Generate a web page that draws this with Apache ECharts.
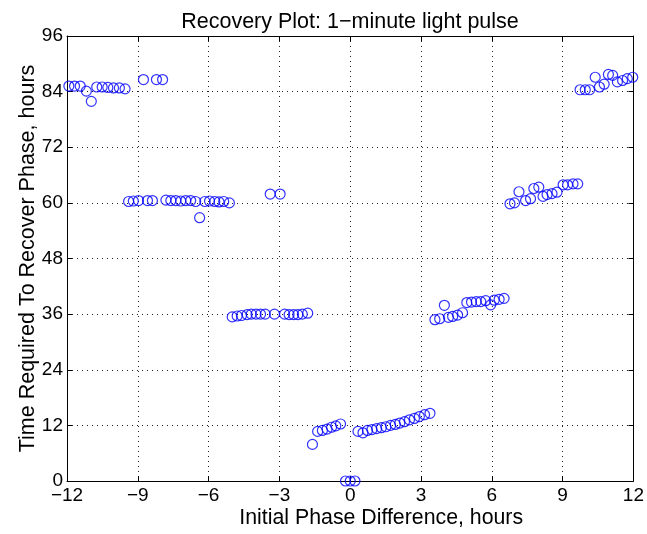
<!DOCTYPE html>
<html>
<head>
<meta charset="utf-8">
<script src="https://cdn.jsdelivr.net/npm/echarts@6/dist/echarts.min.js"></script>
<style>
html,body{margin:0;padding:0;background:#fff;}
#c{width:647px;height:534px;}
</style>
</head>
<body>
<div id="c"></div>
<script>
// Data: [initial phase difference (h), recovery time (h)]
const phaseHours = [
  -11.92, -11.68, -11.44, -11.18, -10.97, -10.74, -10.51, -10.27, -10.03, -9.78, -9.54,
  -8.76, -8.21, -7.95,
  -9.39, -9.19, -8.97, -8.59, -8.38, -7.81, -7.60, -7.39, -7.18, -6.97, -6.76, -6.55, -6.38, -6.16, -5.96, -5.74, -5.56, -5.36, -5.12,
  -3.39, -2.97,
  -5.00, -4.79, -4.61, -4.37, -4.19, -3.99, -3.80, -3.60, -3.21, -2.78, -2.59, -2.40, -2.22, -2.03, -1.80,
  -1.60, -1.38, -1.18, -0.98, -0.79, -0.61, -0.41,
  -0.20, 0.00, 0.20,
  0.33, 0.54, 0.73, 0.92, 1.12, 1.32, 1.51, 1.71, 1.91, 2.10, 2.30, 2.51, 2.72, 2.93, 3.15, 3.38,
  3.59, 3.79, 3.99, 4.16, 4.34, 4.55, 4.76, 4.94, 5.14, 5.34, 5.53, 5.74, 5.95, 6.10, 6.31, 6.52,
  6.77, 6.96, 7.15, 7.43, 7.64, 7.78, 7.99, 8.17, 8.34, 8.55, 8.76, 9.02, 9.21, 9.44, 9.64,
  9.74, 9.96, 10.14, 10.38, 10.56, 10.76, 10.94, 11.12, 11.32, 11.54, 11.74, 11.97
];
const recoveryHours = [
  85.2, 85.2, 85.2, 84.1, 81.9, 85.0, 85.0, 84.9, 84.8, 84.8, 84.6,
  86.6, 86.6, 86.6,
  60.3, 60.4, 60.5, 60.5, 60.5, 60.6, 60.5, 60.5, 60.4, 60.5, 60.5, 60.3, 56.8, 60.3, 60.4, 60.3, 60.2, 60.3, 60.0,
  61.9, 61.9,
  35.4, 35.6, 35.7, 35.9, 36.0, 36.0, 36.0, 36.0, 36.0, 36.0, 35.9, 35.9, 35.9, 36.0, 36.2,
  7.9, 10.7, 10.9, 11.2, 11.6, 11.9, 12.3,
  0.0, 0.0, 0.0,
  10.7, 10.4, 10.9, 11.1, 11.3, 11.5, 11.7, 12.0, 12.2, 12.5, 12.8, 13.2, 13.5, 13.9, 14.3, 14.6,
  34.8, 35.0, 37.9, 35.3, 35.5, 35.8, 36.3, 38.5, 38.6, 38.7, 38.7, 38.9, 38.0, 39.0, 39.2, 39.4,
  59.8, 60.0, 62.4, 60.5, 60.9, 63.1, 63.4, 61.4, 61.8, 62.0, 62.3, 63.9, 63.9, 64.1, 64.1,
  84.4, 84.4, 84.4, 87.1, 85.0, 85.6, 87.7, 87.5, 86.1, 86.4, 86.8, 87.1
];
const xTicks = [-12, -9, -6, -3, 0, 3, 6, 9, 12];
const yTicks = [0, 12, 24, 36, 48, 60, 72, 84, 96];

const titleText = 'Recovery Plot: 1\u2212minute light pulse';
const xName = 'Initial Phase Difference, hours';
const yName = 'Time Required To Recover Phase, hours';

const points = phaseHours.map((x, i) => [x, recoveryHours[i]]);
const fmt = v => String(v).replace('-', '\u2212');
const font = 'Liberation Sans, Arial, Helvetica, sans-serif';

const gridLeft = 67, gridRight = 10, gridTop = 36, gridBottom = 49;

const axisLine = {show: true, onZero: false, lineStyle: {color: '#000', width: 1}};
const tick = {show: true, inside: true, length: 5, lineStyle: {color: '#000', width: 1}};
const split = {show: true, lineStyle: {color: '#222', type: [1, 4], width: 1}};

const chart = echarts.init(document.getElementById('c'), null, {renderer: 'canvas'});
chart.setOption({
  animation: false,
  backgroundColor: '#fff',
  title: {
    text: titleText,
    left: 345,
    textAlign: 'center',
    top: 6,
    textStyle: {fontFamily: font, fontSize: 21.5, fontWeight: 'normal', color: '#000'}
  },
  grid: {left: gridLeft, right: gridRight, top: gridTop, bottom: gridBottom, containLabel: false},
  xAxis: [{
    type: 'value', min: xTicks[0], max: xTicks[xTicks.length - 1], interval: 3,
    position: 'bottom',
    name: xName, nameLocation: 'middle', nameGap: 27, nameMoveOverlap: false,
    nameTextStyle: {fontFamily: font, fontSize: 21.3, color: '#000', padding: [0, 0, 0, 62]},
    axisLine: axisLine, axisTick: tick, splitLine: split,
    axisLabel: {fontFamily: font, fontSize: 19, color: '#000', margin: 5, formatter: fmt}
  }, {
    type: 'value', min: xTicks[0], max: xTicks[xTicks.length - 1], interval: 3,
    position: 'top',
    axisLine: axisLine, axisTick: tick, splitLine: {show: false},
    axisLabel: {show: false}
  }],
  yAxis: [{
    type: 'value', min: yTicks[0], max: yTicks[yTicks.length - 1], interval: 12,
    position: 'left',
    name: yName, nameLocation: 'middle', nameGap: 28, nameMoveOverlap: false,
    nameTextStyle: {fontFamily: font, fontSize: 21.5, color: '#000'},
    axisLine: axisLine, axisTick: tick, splitLine: split,
    axisLabel: {fontFamily: font, fontSize: 19, color: '#000', margin: 4, formatter: fmt}
  }, {
    type: 'value', min: yTicks[0], max: yTicks[yTicks.length - 1], interval: 12,
    position: 'right',
    axisLine: axisLine, axisTick: tick, splitLine: {show: false},
    axisLabel: {show: false}
  }],
  series: [{
    type: 'scatter',
    xAxisIndex: 0, yAxisIndex: 0,
    data: points,
    symbol: 'circle',
    symbolSize: 10,
    clip: false,
    itemStyle: {color: 'rgba(0,0,0,0)', borderColor: '#0000ff', borderWidth: 1.2}
  }]
});
</script>
</body>
</html>
